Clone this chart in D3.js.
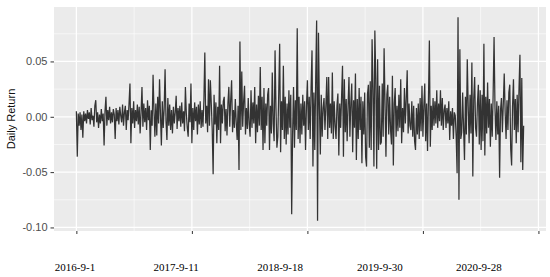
<!DOCTYPE html>
<html>
<head>
<meta charset="utf-8">
<script src="https://cdn.jsdelivr.net/npm/d3@7"></script>
<style>
  body { margin: 0; background: #fff; }
</style>
</head>
<body>
<svg id="chart" width="550" height="277"></svg>
<script>
// daily return, one reading every second trading day
const dailyReturn = [
  .005,-.036,.003,-.008,.004,-.012,.002,-.019,.005,-.004,
  .003,-.006,.006,-.002,.004,-.007,.008,-.003,.001,-.009,
  .010,.015,-.005,.004,-.010,.002,-.006,.007,-.004,.003,
  -.026,.005,.018,-.008,.006,-.003,.009,-.006,.004,-.005,
  .007,.002,-.020,.008,-.004,.006,-.007,.009,.001,-.005,
  .011,-.008,.004,.010,-.012,.006,-.003,.012,.030,-.024,
  .008,-.006,.014,-.010,.006,-.004,.011,-.007,.009,-.015,
  .004,.027,-.009,.012,-.005,.008,-.012,.015,-.003,.010,
  -.030,.006,-.008,.038,.005,-.018,.012,-.017,.018,-.006,
  .034,.002,-.026,.014,-.010,.007,.043,-.004,-.021,.017,
  -.008,.011,-.012,.006,-.015,.009,-.006,.004,.019,-.011,
  .008,-.004,.010,-.009,.013,-.006,.005,-.013,.027,.003,
  -.010,-.018,.012,-.005,.030,-.024,.008,-.012,.013,-.004,
  .009,-.016,.011,-.007,.014,-.010,.006,-.009,.015,.058,
  -.006,.010,-.014,.034,-.008,.033,.012,-.011,-.052,.020,
  -.007,.013,-.024,.009,-.012,.046,-.024,.011,-.006,.014,
  .018,-.013,.007,-.017,.012,.027,-.009,.015,.033,-.014,
  .006,-.010,.016,-.005,-.021,.010,-.048,.068,-.012,.041,
  -.009,.014,.028,-.016,.008,-.011,.017,-.007,-.018,.024,
  -.010,.013,-.006,.027,-.024,.011,-.014,.019,-.008,.045,
  -.012,.018,-.030,.026,-.024,.012,-.008,.020,.026,-.030,
  .010,-.015,.040,-.006,-.022,.060,.008,-.028,-.018,.022,
  .066,-.032,.014,-.012,.046,-.020,.018,-.025,.012,-.016,
  .024,-.010,.020,-.088,-.015,.027,-.028,.015,-.012,.080,
  -.020,.018,-.024,.012,-.016,.020,-.008,.014,-.030,.010,
  .033,-.012,.018,-.020,.026,.060,-.045,.022,-.030,.035,
  .087,-.094,.076,.010,-.034,.020,-.018,.008,.017,-.012,
  .010,.036,-.020,.036,-.010,.012,-.015,.040,-.020,.014,
  -.008,-.020,.010,.021,-.035,.012,-.010,.018,.046,-.036,
  .034,-.014,.016,-.022,.010,.036,-.018,.012,.030,-.032,
  .015,-.010,.039,-.039,.016,-.020,.026,-.012,.018,-.042,
  .014,-.016,.022,-.036,-.045,.020,.029,-.028,.032,-.030,
  .070,.025,-.045,.078,.035,-.047,.052,-.030,.028,-.025,
  -.023,.030,-.018,.062,.012,-.036,.020,.029,-.016,.018,
  -.012,-.025,.037,-.044,.012,.026,-.018,.010,-.013,.020,
  -.010,.034,-.024,.008,-.014,.026,-.006,.016,.042,-.015,
  .012,-.008,-.012,.014,-.018,.010,-.022,-.030,.008,-.016,
  .012,-.020,.017,-.013,.028,-.018,.010,.030,-.022,.012,
  -.031,.015,.069,-.027,.010,-.012,.017,-.008,.014,-.006,
  .024,-.010,.012,-.004,.024,-.008,.017,-.012,.006,.011,
  -.010,.008,-.006,.014,-.021,.005,-.008,.008,-.020,.004,
  .001,-.018,-.051,.090,-.075,.061,-.020,-.014,.022,-.010,
  -.039,.018,-.016,.052,.010,-.024,.020,-.015,.049,-.054,
  .016,.036,-.010,-.018,.012,.029,-.025,.024,-.030,.020,
  -.022,.066,-.035,.018,-.015,.031,-.010,.016,-.027,.012,
  -.018,.020,.072,.008,-.021,.014,-.016,.010,-.055,.006,
  .017,-.014,.012,.039,.004,-.020,.015,-.012,.022,.029,
  -.029,-.044,.010,.034,-.012,.016,-.024,.020,-.014,.026,
  .056,-.041,.035,-.048,-.008
];
const dayStep = 2;

const xBreaks = [0, 250, 500, 750, 1000];
const yBreaks = [-0.10, -0.05, 0, 0.05];

// date labels sit under the axis, not on the breaks
const dateLabels = ["2016-9-1", "2017-9-11", "2018-9-18", "2019-9-30", "2020-9-28"];
const dateLabelDays = [-3, 216, 441, 657, 871];

const panel = { left: 54, right: 546, top: 7, bottom: 231 };

const expand = (lo, hi) => {
    const pad = (hi - lo) * 0.05;
    return [lo - pad, hi + pad];
};
const midpoints = (breaks, domain) => {
    const out = [];
    const step = breaks[1] - breaks[0];
    for (let b = breaks[0] - step / 2; b <= breaks[breaks.length - 1] + step / 2; b += step) {
        if (b >= domain[0] && b <= domain[1]) out.push(b);
    }
    return out;
};

const days = dailyReturn.map((d, i) => i * dayStep);

const x = d3.scaleLinear()
    .domain(expand(0, days[days.length - 1]))
    .range([panel.left, panel.right]);
const y = d3.scaleLinear()
    .domain(expand(...d3.extent(dailyReturn)))
    .range([panel.bottom, panel.top]);

const svg = d3.select("#chart");

svg.append("rect")
    .attr("x", panel.left)
    .attr("y", panel.top)
    .attr("width", panel.right - panel.left)
    .attr("height", panel.bottom - panel.top)
    .attr("fill", "#ebebeb");

const grid = svg.append("g").attr("stroke", "#fff");

// minor grid first, major on top
grid.selectAll("line.xminor")
    .data(midpoints(xBreaks, x.domain()))
    .enter().append("line")
    .attr("x1", d => x(d)).attr("x2", d => x(d))
    .attr("y1", panel.top).attr("y2", panel.bottom)
    .attr("stroke-width", 0.6);
grid.selectAll("line.yminor")
    .data(midpoints(yBreaks, y.domain()))
    .enter().append("line")
    .attr("x1", panel.left).attr("x2", panel.right)
    .attr("y1", d => y(d)).attr("y2", d => y(d))
    .attr("stroke-width", 0.6);
grid.selectAll("line.xmajor")
    .data(xBreaks.filter(d => d <= x.domain()[1]))
    .enter().append("line")
    .attr("x1", d => x(d)).attr("x2", d => x(d))
    .attr("y1", panel.top).attr("y2", panel.bottom)
    .attr("stroke-width", 1.2);
grid.selectAll("line.ymajor")
    .data(yBreaks)
    .enter().append("line")
    .attr("x1", panel.left).attr("x2", panel.right)
    .attr("y1", d => y(d)).attr("y2", d => y(d))
    .attr("stroke-width", 1.2);

const line = d3.line()
    .x((d, i) => x(days[i]))
    .y(d => y(d));

svg.append("path")
    .datum(dailyReturn)
    .attr("d", line)
    .attr("fill", "none")
    .attr("stroke", "#333")
    .attr("stroke-width", 1.25);

const yAxis = svg.append("g")
    .attr("transform", `translate(${panel.left},0)`)
    .call(d3.axisLeft(y)
        .tickValues(yBreaks)
        .tickFormat(d => d.toFixed(2))
        .tickSize(3.5)
        .tickPadding(3));
yAxis.select(".domain").remove();
yAxis.selectAll("line").attr("stroke", "#333");
yAxis.selectAll("text")
    .attr("fill", "#4d4d4d")
    .style("font-family", "'Liberation Sans', Arial, sans-serif")
    .style("font-size", "11px");

const xAxis = svg.append("g")
    .attr("transform", `translate(0,${panel.bottom})`)
    .call(d3.axisBottom(x)
        .tickValues(xBreaks)
        .tickFormat("")
        .tickSize(3));
xAxis.select(".domain").remove();
xAxis.selectAll("line").attr("stroke", "#333");

svg.append("g")
    .selectAll("text")
    .data(dateLabels)
    .enter().append("text")
    .attr("x", (d, i) => x(dateLabelDays[i]))
    .attr("y", 271)
    .attr("text-anchor", "middle")
    .attr("fill", "#000")
    .style("font-family", "'Liberation Serif', 'Times New Roman', serif")
    .style("font-size", "11px")
    .text(d => d);

svg.append("text")
    .attr("transform", `translate(15,${(panel.top + panel.bottom) / 2}) rotate(-90)`)
    .attr("text-anchor", "middle")
    .attr("fill", "#111")
    .style("font-family", "'Liberation Sans', Arial, sans-serif")
    .style("font-size", "11px")
    .text("Daily Return");
</script>
</body>
</html>
